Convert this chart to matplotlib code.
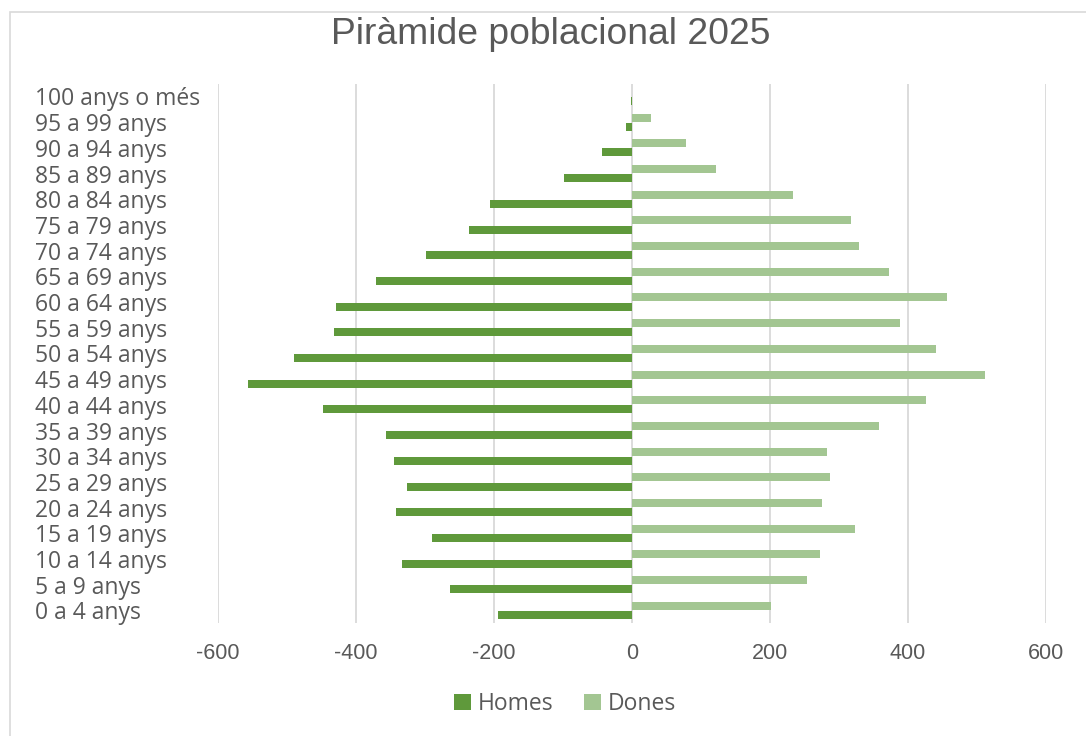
import matplotlib
matplotlib.use("Agg")
import matplotlib.pyplot as plt
import numpy as np
from matplotlib.patches import Rectangle, Patch

categories = ["0 a 4 anys", "5 a 9 anys", "10 a 14 anys", "15 a 19 anys", "20 a 24 anys",
              "25 a 29 anys", "30 a 34 anys", "35 a 39 anys", "40 a 44 anys", "45 a 49 anys",
              "50 a 54 anys", "55 a 59 anys", "60 a 64 anys", "65 a 69 anys", "70 a 74 anys",
              "75 a 79 anys", "80 a 84 anys", "85 a 89 anys", "90 a 94 anys", "95 a 99 anys",
              "100 anys o més"]
homes = [-194, -264, -333, -290, -342, -326, -345, -357, -448, -557,
         -490, -432, -429, -371, -298, -236, -206, -99, -44, -9, -1]
dones = [202, 254, 273, 323, 275, 287, 283, 358, 426, 511,
         440, 388, 457, 373, 329, 318, 233, 122, 78, 28, 0]
xticks = [-600, -400, -200, 0, 200, 400, 600]

W, H = 1086, 736
fig = plt.figure(figsize=(W / 100, H / 100), dpi=100)
fig.patch.set_facecolor("white")

# chart border (only top/left visible)
fig.patches.append(Rectangle((10 / W, -0.1), 1.2, 1.1 - 12 / H, transform=fig.transFigure,
                             fill=False, edgecolor="#d9d9d9", linewidth=1.2))

left, right = 218 / W, 1046 / W
top, bottom = 1 - 83.6 / H, 1 - 623.3 / H
ax = fig.add_axes([left, bottom, right - left, top - bottom])

y = np.arange(len(categories))
h = 0.31
off = 0.18
c_h = "#5f993b"
c_d = "#a3c692"
ax.barh(y - off, homes, height=h, color=c_h, zorder=3)
ax.barh(y + off, dones, height=h, color=c_d, zorder=3)

ax.set_xlim(-600, 600)
ax.set_ylim(-0.5, len(categories) - 0.5)
ax.set_xticks(xticks)
ax.set_xticklabels([str(v) for v in xticks], fontfamily="Liberation Sans", fontsize=15.5,
                   color="#595959")
ax.set_yticks(y)
ax.set_yticklabels(categories, fontfamily="Open Sans", fontsize=16.5, color="#595959", ha="left")
ax.tick_params(axis="y", length=0, pad=(218 - 35) * 0.72)
ax.tick_params(axis="x", length=0, pad=14)
for v in xticks:
    ax.axvline(v, color="#d9d9d9", linewidth=1.3, zorder=1)
for s in ax.spines.values():
    s.set_visible(False)

fig.text(551 / W, 1 - 35 / H, "Piràmide poblacional 2025", ha="center", va="center",
         fontfamily="Liberation Sans", fontsize=26.8, color="#595959")

handles = [Patch(facecolor=c_h, label="Homes"), Patch(facecolor=c_d, label="Dones")]
leg = fig.legend(handles=handles, loc="center", bbox_to_anchor=(565 / W, 1 - 704 / H), ncol=2,
                 frameon=False, prop={"family": "Open Sans", "size": 16.5},
                 handlelength=0.75, handleheight=0.75, handletextpad=0.3, columnspacing=1.3)
for t in leg.get_texts():
    t.set_color("#595959")

fig.savefig("out.png", dpi=100)
